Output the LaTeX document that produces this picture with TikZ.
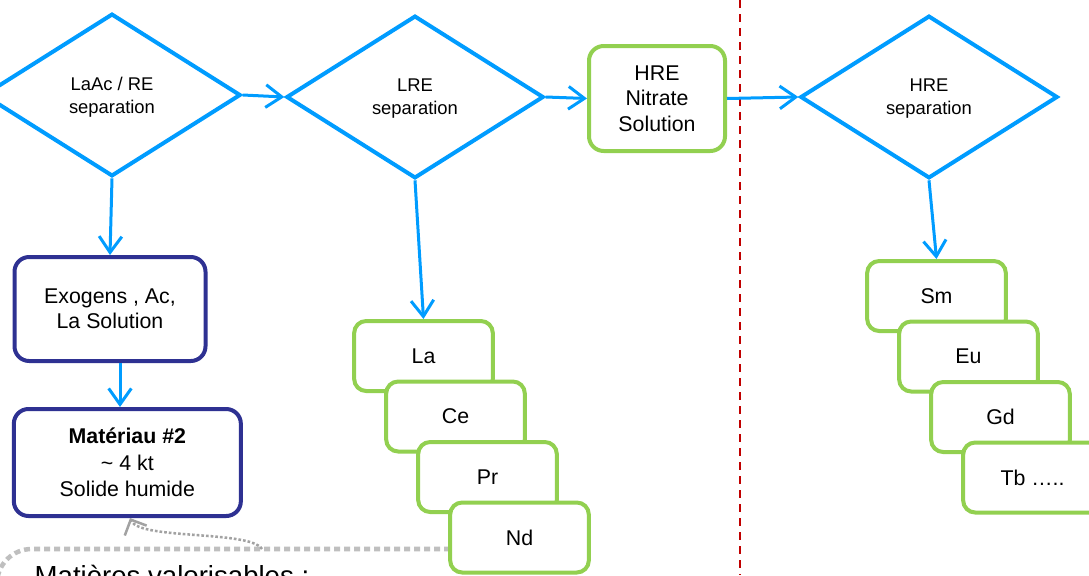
\documentclass[tikz,border=0pt]{standalone}
\usepackage{fontspec}
\setmainfont{Liberation Sans}
\usetikzlibrary{arrows.meta, positioning, shapes.geometric}

\definecolor{flowblue}{RGB}{0,156,255}
\definecolor{leafgreen}{RGB}{146,208,80}
\definecolor{inkblue}{RGB}{46,49,146}
\definecolor{cutred}{RGB}{192,0,0}
\definecolor{notegray}{RGB}{191,191,191}

\begin{document}
\begin{tikzpicture}[
  x=0.75pt, y=-0.75pt,
  decision/.style={diamond, draw=flowblue, line width=3pt, fill=white, minimum width=193pt, minimum height=122pt, inner sep=0pt, text depth=0pt, align=center, font=\fontsize{13.8}{17}\selectfont},
  stream/.style={rectangle, rounded corners=11pt, draw=leafgreen, line width=3pt, fill=white, align=center, font=\fontsize{16}{19}\selectfont},
  product/.style={stream, draw=inkblue},
  element/.style={stream, rounded corners=9pt, minimum width=104pt, minimum height=52.5pt},
  arrow/.style={line width=2.25pt, draw=flowblue, -{Straight Barb[length=12pt, width=17pt]}},
  cutline/.style={line width=1.6pt, draw=cutred, dash pattern=on 6pt off 4.5pt},
  callout/.style={line width=3.4pt, draw=notegray, dash pattern=on 4.5pt off 3pt},
  notearrow/.style={line width=1.9pt, draw=notegray!85!black, dash pattern=on 2pt off 1.5pt, -{Straight Barb[length=9pt, width=18pt]}}
]
\useasboundingbox (0,0) rectangle (1089,575);
\clip (0,0) rectangle (1089,575);

% Boundary between the two circuits
\draw[cutline] (740,0) -- (740,575);

% Top row - separation steps
\node[decision] (dia1) at (112,95) {LaAc / RE\\separation};
\node[decision] (dia2) at (415,97) {LRE\\separation};
\node[stream, minimum width=102pt, minimum height=78.75pt] (hre) at (657,98.5) {HRE\\Nitrate\\Solution};
\node[decision] (dia3) at (929,97) {HRE\\separation};

% Left branch - residues
\node[product, minimum width=143.25pt, minimum height=78pt] (exo) at (110,309) {Exogens , Ac,\\La Solution};
\node[product, minimum width=170.25pt, minimum height=80.25pt, below=33pt of exo, xshift=13pt, font=\fontsize{16}{19.8}\selectfont] (mat) {\textbf{Matériau \#2}\\\textasciitilde{} 4 kt\\Solide humide};

% Note below the residue box (right end hidden under the Nd box)
\draw[callout, rounded corners=26pt] (500,549) -| (-3,760);
\node[anchor=base west, font=\fontsize{20.7}{24}\selectfont] (tagtext) at (30,585) {Matières valorisables :};
\coordinate (tag) at (262,549);
\draw[notearrow] (tag) .. controls (250,530) and (140,540) .. ([xshift=2pt]mat.south);

% Light rare earths
\foreach \el [count=\i from 0] in {La,Ce,Pr,Nd}
  \node[element] (\el) at ({423.5+32*\i},{356+60.5*\i}) {\el};

% Heavy rare earths
\foreach \el/\txt [count=\i from 0] in {Sm/Sm,Eu/Eu,Gd/Gd,Tb/Tb …..}
  \node[element] (\el) at ({936.5+32*\i},{296+60.5*\i}) {\txt};

% Main flow
\draw[arrow] (dia1.east) -- (dia2.west);
\draw[arrow] (dia2.east) -- (hre.west);
\draw[arrow] (hre.east) -- (dia3.west);

% Outputs of each separation
\draw[arrow] (dia1.south) -- (exo.north);
\draw[arrow] ([xshift=7.5pt]exo.south) -- ([xshift=7.5pt]exo.south |- mat.north);
\draw[arrow] (dia2.south) -- (La.north);
\draw[arrow] (dia3.south) -- (Sm.north);

\end{tikzpicture}
\end{document}
